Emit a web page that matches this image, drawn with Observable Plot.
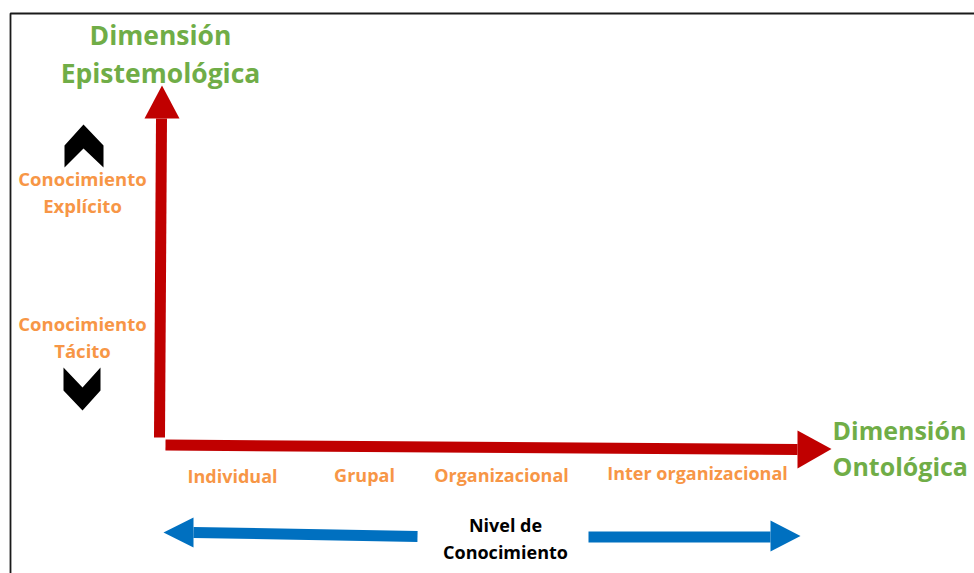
<!DOCTYPE html>
<html>
<head>
<meta charset="utf-8">
<script src="https://cdn.jsdelivr.net/npm/d3@7"></script>
<script src="https://cdn.jsdelivr.net/npm/@observablehq/plot@0.6"></script>
<style>
  html, body { margin: 0; padding: 0; background: #ffffff; }
  #chart svg { display: block; }
</style>
</head>
<body>
<div id="chart"></div>
<script>
// ---- Content (data) ----
const ontologicalLevels = ["Individual", "Grupal", "Organizacional", "Inter organizacional"];
const epistemologicalLevels = ["Conocimiento\nTácito", "Conocimiento\nExplícito"]; // low -> high
const axisTitles = ["Dimensión\nEpistemológica", "Dimensión\nOntológica"];
const levelTitle = ["Nivel de\nConocimiento"];

// ---- Layout (pixel coordinate system of the diagram) ----
const W = 974, H = 573;
const FONT = "'Open Sans', Lato, sans-serif";
const C = {green: "#70AD47", orange: "#F79646", red: "#C00000", blue: "#0070C0", black: "#000000"};

const levelPos = [{x: 232, y: 477}, {x: 364, y: 476}, {x: 501, y: 476}, {x: 697, y: 474}];
const epiPos = [{x: 82, y: 335}, {x: 82, y: 190}];
const titlePos = [{x: 160, y: 51.5, anchor: "middle"}, {x: 832, y: 446, anchor: "start"}];

const levelRows = ontologicalLevels.map((t, i) => ({text: t, ...levelPos[i]}));
const epiRows = epistemologicalLevels.map((t, i) => ({text: t, ...epiPos[i]}));
const titleRows = axisTitles.map((t, i) => ({text: t, ...titlePos[i]}));

// shafts (segments) and heads (polygons)
const seg = (id, pts) => pts.map(([x, y]) => ({id, x, y}));
const redShafts = [
  ...seg("v", [[161, 118], [159, 437]]),
  ...seg("h", [[165, 444.5], [797, 449]])
];
const redHeads = [
  ...seg("up", [[144, 118], [161.5, 85], [179, 118]]),
  ...seg("right", [[797, 430], [831, 448.5], [797, 468]])
];
const blueShafts = [
  ...seg("l", [[193, 532], [417, 536]]),
  ...seg("r", [[588, 536.5], [770, 536.5]])
];
const blueHeads = [
  ...seg("left", [[193, 517], [163, 532], [193, 547]]),
  ...seg("right", [[770, 520], [800, 535.5], [770, 551]])
];
const chevrons = [
  ...seg("up", [[83, 124], [103, 145], [103, 167], [83, 148], [64, 167], [64, 145]]),
  ...seg("down", [[63, 367], [82, 387], [100, 367], [100, 390], [82, 410], [63, 390]])
];
const frame = [
  ...seg("frame", [[10, H + 5], [10, 13], [W + 5, 13]])
];

const textBase = {text: "text", x: "x", y: "y", fontFamily: FONT, fontWeight: "bold", lineAnchor: "middle"};

const chart = Plot.plot({
  width: W,
  height: H,
  margin: 0,
  x: {type: "linear", domain: [0, W], range: [0, W], axis: null},
  y: {type: "linear", domain: [0, H], range: [0, H], axis: null},
  style: {background: "#ffffff", overflow: "hidden"},
  marks: [
    Plot.line(frame, {x: "x", y: "y", z: "id", stroke: "#1a1a1a", strokeWidth: 1.8, strokeLinecap: "butt", strokeLinejoin: "miter"}),
    Plot.line(redShafts, {x: "x", y: "y", z: "id", stroke: C.red, strokeWidth: 11, strokeLinecap: "butt"}),
    Plot.line(redHeads, {x: "x", y: "y", z: "id", fill: C.red, stroke: "none", curve: "linear-closed"}),
    Plot.line(blueShafts, {x: "x", y: "y", z: "id", stroke: C.blue, strokeWidth: 11, strokeLinecap: "butt"}),
    Plot.line(blueHeads, {x: "x", y: "y", z: "id", fill: C.blue, stroke: "none", curve: "linear-closed"}),
    Plot.line(chevrons, {x: "x", y: "y", z: "id", fill: C.black, stroke: "none", curve: "linear-closed"}),
    Plot.text(titleRows.filter(d => d.anchor === "middle"), {...textBase, fill: C.green, fontSize: 26.5, lineHeight: 1.43, textAnchor: "middle"}),
    Plot.text(titleRows.filter(d => d.anchor === "start"), {...textBase, fill: C.green, fontSize: 25, lineHeight: 1.44, textAnchor: "start"}),
    Plot.text(epiRows, {...textBase, fill: C.orange, fontSize: 18.5, lineHeight: 1.46, textAnchor: "middle"}),
    Plot.text(levelRows, {...textBase, fill: C.orange, fontSize: 18, textAnchor: "middle"}),
    Plot.text(levelTitle.map(t => ({text: t, x: 505, y: 536})), {...textBase, fill: C.black, fontSize: 18, lineHeight: 1.5, textAnchor: "middle"})
  ]
});
document.getElementById("chart").appendChild(chart);
</script>
</body>
</html>
